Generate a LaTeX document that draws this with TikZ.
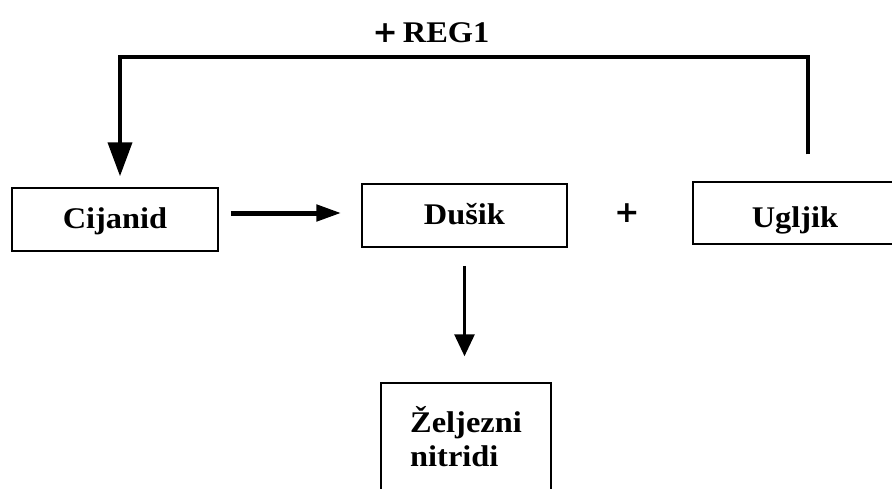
\documentclass[tikz,border=0pt]{standalone}
\usepackage{fontspec}
\setmainfont{Liberation Serif}[FakeStretch=1.08]
\newfontfamily\plusfont{DejaVu Sans}
\usetikzlibrary{arrows.meta}
\tikzset{
  box/.style={draw=black, line width=1.5pt, rectangle, inner sep=0pt,
    font=\bfseries\fontsize{30}{34}\selectfont},
  onerow/.style={text height=21pt, text depth=4pt},
  lbl/.style={inner sep=0pt, font=\bfseries\fontsize{30}{34}\selectfont},
  plussign/.style={inner sep=0pt, font=\plusfont\bfseries\fontsize{30}{30}\selectfont},
  arrh/.style={line width=5pt, -{Triangle[length=25pt,width=16pt]}},
  arrv/.style={line width=3pt, -{Triangle[length=22pt,width=20pt]}},
  fb/.style={line width=4pt, line join=miter, -{Triangle[length=34pt,width=24pt]}}
}
\begin{document}
\begin{tikzpicture}[x=1pt,y=-1pt]
\useasboundingbox (0,0) rectangle (892,488);
\clip (0,0) rectangle (892,488);
\fill[white] (0,0) rectangle (892,488);
% boxes
\node[box, onerow, minimum width=206pt, minimum height=63pt] (cij) at (115,219.5) {Cijanid};
\node[box, onerow, minimum width=205pt, minimum height=63pt] (dus) at (464.5,215.5) {Dušik};
\node[box, text height=28pt, text depth=0pt, minimum width=204pt, minimum height=62pt] (ugl) at (795,213) {Ugljik};
\node[box, minimum width=170pt, minimum height=107pt, align=left] (zel) at (466,436.5) {Željezni\\nitridi};
% labels
\node[plussign] (plus) at (627,213) {+};
\node[lbl, anchor=base] (reg) at (431,42) {{\plusfont\fontsize{30}{30}\selectfont +}\,REG1};
% connectors
\coordinate (a1) at ([xshift=12pt,yshift=6.5pt]cij.east);
\draw[arrh, shorten >=20pt] (a1) -- (a1 -| dus.west);
\draw[arrv, shorten <=18pt, shorten >=26pt] (dus.south) -- (dus.south |- zel.north);
\coordinate (fbR) at ([xshift=13pt,yshift=27pt]ugl.north);
\coordinate (fbL) at ([xshift=5pt,yshift=11pt]cij.north);
\coordinate (topY) at (464,57);
\draw[fb] (fbR) -- (fbR |- topY) -- (fbL |- topY) -- (fbL);
\end{tikzpicture}
\end{document}
